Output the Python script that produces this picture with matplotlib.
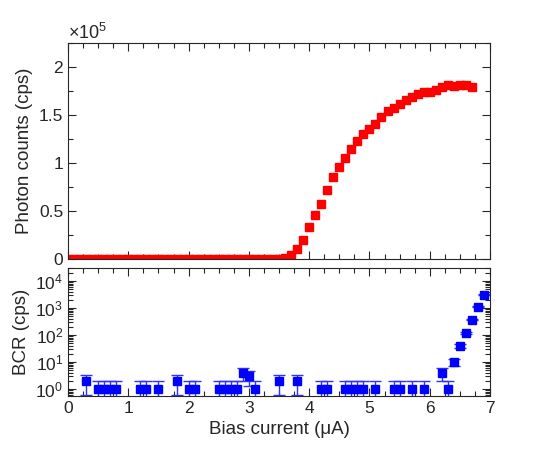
import numpy as np
import matplotlib
matplotlib.use("Agg")
import matplotlib.pyplot as plt
from matplotlib.ticker import MultipleLocator, ScalarFormatter, LogLocator, NullFormatter

plt.rcParams['font.family'] = ['Liberation Sans', 'DejaVu Sans']
plt.rcParams['mathtext.fontset'] = 'custom'
plt.rcParams['mathtext.rm'] = 'Liberation Sans'
plt.rcParams['mathtext.it'] = 'Liberation Sans:italic'

# photon counts vs bias current (uA)
bias = [0.0, 0.1, 0.2, 0.3, 0.4, 0.5, 0.6, 0.7, 0.8, 0.9,
        1.0, 1.1, 1.2, 1.3, 1.4, 1.5, 1.6, 1.7, 1.8, 1.9,
        2.0, 2.1, 2.2, 2.3, 2.4, 2.5, 2.6, 2.7, 2.8, 2.9,
        3.0, 3.1, 3.2, 3.3, 3.4, 3.5, 3.6, 3.7, 3.8, 3.9,
        4.0, 4.1, 4.2, 4.3, 4.4, 4.5, 4.6, 4.7, 4.8, 4.9,
        5.0, 5.1, 5.2, 5.3, 5.4, 5.5, 5.6, 5.7, 5.8, 5.9,
        6.0, 6.1, 6.2, 6.3, 6.4, 6.5, 6.6, 6.7]
counts = [0, 0, 0, 0, 0, 0, 0, 0, 0, 0,
          0, 0, 0, 0, 0, 0, 0, 0, 0, 0,
          0, 0, 0, 0, 0, 0, 0, 0, 0, 0,
          0, 0, 0, 0, 0, 200, 1500, 4500, 10000, 19500,
          33000, 45500, 57000, 71500, 85000, 96000, 105500, 114500, 122500, 130000,
          135500, 141000, 148000, 154000, 157000, 161000, 166000, 168500, 171500, 173500,
          174000, 176500, 179500, 181000, 180500, 181000, 181000, 179500]

# background count rate
bcr_bias = [0.3, 0.5, 0.6, 0.7, 0.8, 1.2, 1.3, 1.5, 1.8, 2.0,
            2.1, 2.5, 2.6, 2.7, 2.8, 2.9, 3.0, 3.1, 3.5, 3.8,
            4.2, 4.3, 4.6, 4.7, 4.8, 4.9, 5.1, 5.4, 5.5, 5.7,
            5.9, 6.2, 6.3, 6.4, 6.5, 6.6, 6.7, 6.8, 6.9]
bcr = [2, 1, 1, 1, 1, 1, 1, 1, 2, 1,
       1, 1, 1, 1, 1, 4, 3, 1, 2, 2,
       1, 1, 1, 1, 1, 1, 1, 1, 1, 1,
       1, 4, 1, 10, 40, 118, 370, 1100, 3100]
bcr_err = [1.41, 1, 1, 1, 1, 1, 1, 1, 1.41, 1,
           1, 1, 1, 1, 1, 2, 1.73, 1, 1.41, 1.41,
           1, 1, 1, 1, 1, 1, 1, 1, 1, 1,
           1, 2, 1, 3.2, 6.3, 10.9, 19.2, 33.2, 55.7]


class TrimFormatter(ScalarFormatter):
    # ticks as 0, 0.5, 1 ... instead of 0.0, 0.5, 1.0
    def _set_format(self):
        self.format = '%g'


fig = plt.figure(figsize=(5.45, 4.54), dpi=100)
ax1 = fig.add_axes([0.1248, 0.4295, 0.7743, 0.4758])
ax2 = fig.add_axes([0.1248, 0.1278, 0.7743, 0.2819])

dark = '#262626'

ax1.plot(bias, counts, 's', color='red', ms=5.6, mec='red')
ax1.set_xlim(0, 7)
ax1.set_ylim(0, 2.25e5)
ax1.yaxis.set_major_locator(MultipleLocator(0.5e5))
ax1.yaxis.set_minor_locator(MultipleLocator(0.25e5))
fmt = TrimFormatter(useMathText=True)
fmt.set_powerlimits((0, 0))
ax1.yaxis.set_major_formatter(fmt)
ax1.set_ylabel('Photon counts (cps)', fontsize=13.5)
ax1.tick_params(labelbottom=False)

ax2.errorbar(bcr_bias, bcr, yerr=bcr_err, fmt='s', color='blue', ms=5.6,
             ecolor='#3030ff', elinewidth=1, capsize=4, capthick=1)
ax2.set_yscale('log')
ax2.set_xlim(0, 7)
ax2.set_ylim(0.55, 3e4)
ax2.yaxis.set_major_locator(LogLocator(base=10, numticks=10))
ax2.yaxis.set_minor_locator(LogLocator(base=10, subs=np.arange(2, 10), numticks=10))
ax2.yaxis.set_minor_formatter(NullFormatter())
ax2.set_ylabel('BCR (cps)', fontsize=13.5)
ax2.set_xlabel('Bias current (\u03bcA)', fontsize=13.5)

for ax in (ax1, ax2):
    ax.xaxis.set_major_locator(MultipleLocator(1))
    ax.xaxis.set_minor_locator(MultipleLocator(0.25))
    ax.tick_params(which='both', direction='in', top=True, right=True,
                   colors=dark, labelsize=12.5, width=0.8)
    ax.tick_params(which='major', length=6)
    ax.tick_params(which='minor', length=3.5)
    for s in ax.spines.values():
        s.set_color(dark)
        s.set_linewidth(0.8)
    ax.yaxis.label.set_color(dark)
    ax.xaxis.label.set_color(dark)

ax1.yaxis.get_offset_text().set_fontsize(13)
ax1.yaxis.get_offset_text().set_color(dark)

fig.savefig('out.png', dpi=100)
